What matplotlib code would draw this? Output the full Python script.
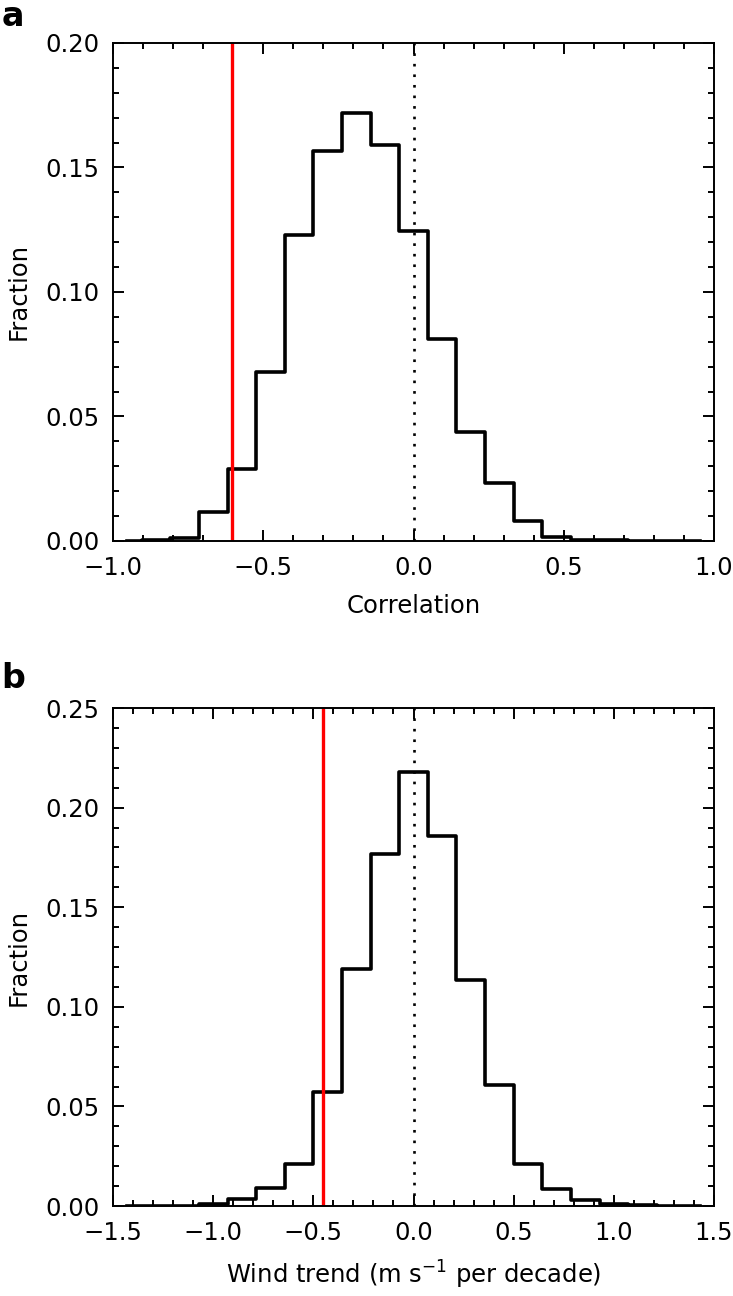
import matplotlib
matplotlib.use('Agg')
import matplotlib.pyplot as plt
from matplotlib.ticker import MultipleLocator, FuncFormatter

# panel a: correlation histogram (21 bins from -1 to 1, drawn at bin centres)
corr_centers = [-0.952, -0.857, -0.762, -0.667, -0.571, -0.476, -0.381, -0.286,
                -0.190, -0.095, 0.000, 0.095, 0.190, 0.286, 0.381, 0.476,
                0.571, 0.667, 0.762, 0.857, 0.952]
corr_frac = [0.0, 0.0002, 0.001, 0.0116, 0.0289, 0.068, 0.1227, 0.1566,
             0.1718, 0.1592, 0.1244, 0.0809, 0.0438, 0.0232, 0.008, 0.0014,
             0.0005, 0.0002, 0.0, 0.0, 0.0]
corr_obs = -0.605

# panel b: wind trend histogram (21 bins from -1.5 to 1.5)
wind_centers = [-1.429, -1.286, -1.143, -1.000, -0.857, -0.714, -0.571, -0.429,
                -0.286, -0.143, 0.000, 0.143, 0.286, 0.429, 0.571, 0.714,
                0.857, 1.000, 1.143, 1.286, 1.429]
wind_frac = [0.0, 0.0, 0.0002, 0.0012, 0.0037, 0.0091, 0.0212, 0.0573,
             0.1192, 0.1769, 0.218, 0.1856, 0.1134, 0.0606, 0.0212, 0.0087,
             0.0029, 0.0012, 0.0006, 0.0002, 0.0]
wind_obs = -0.45

plt.rcParams['font.family'] = ['DejaVu Sans']
plt.rcParams['mathtext.fontset'] = 'dejavusans'
fs = 17.5

fig = plt.figure(figsize=(7.33, 12.96), dpi=100)
ax1 = fig.add_axes([0.1542, 0.5826, 0.8199, 0.3843])
ax2 = fig.add_axes([0.1542, 0.0694, 0.8199, 0.3843])


def fmt(f):
    return FuncFormatter(lambda v, p: (f % v).replace('-', '\u2212'))


def style(ax, xlim, ylim, xmaj, ymaj, xlabel):
    ax.set_xlim(xlim)
    ax.set_ylim(ylim)
    ax.xaxis.set_major_locator(MultipleLocator(xmaj))
    ax.xaxis.set_minor_locator(MultipleLocator(xmaj / 5))
    ax.yaxis.set_major_locator(MultipleLocator(ymaj))
    ax.yaxis.set_minor_locator(MultipleLocator(ymaj / 5))
    ax.xaxis.set_major_formatter(fmt('%.1f'))
    ax.yaxis.set_major_formatter(fmt('%.2f'))
    ax.tick_params(which='both', direction='in', top=True, right=True,
                   width=1.4, labelsize=fs)
    ax.tick_params(which='major', length=8)
    ax.tick_params(which='minor', length=4)
    ax.tick_params(axis='x', pad=11)
    ax.tick_params(axis='y', pad=10)
    for s in ax.spines.values():
        s.set_linewidth(1.4)
    ax.set_xlabel(xlabel, fontsize=fs, labelpad=10)
    ax.set_ylabel('Fraction', fontsize=fs, labelpad=10)


ax1.step(corr_centers, corr_frac, where='mid', color='black', lw=2.6)
ax1.axvline(0, color='black', lw=1.9, linestyle=(0, (1, 3)))
ax1.axvline(corr_obs, color='red', lw=2.4)
style(ax1, (-1, 1), (0, 0.2), 0.5, 0.05, 'Correlation')

ax2.step(wind_centers, wind_frac, where='mid', color='black', lw=2.6)
ax2.axvline(0, color='black', lw=1.9, linestyle=(0, (1, 3)))
ax2.axvline(wind_obs, color='red', lw=2.4)
style(ax2, (-1.5, 1.5), (0, 0.25), 0.5, 0.05,
      'Wind trend (m s$^{-1}$ per decade)')

fig.text(0.002, 0.980, 'a', fontsize=24, fontweight='bold', va='baseline')
fig.text(0.002, 0.469, 'b', fontsize=24, fontweight='bold', va='baseline')

fig.savefig('out.png', dpi=100)
